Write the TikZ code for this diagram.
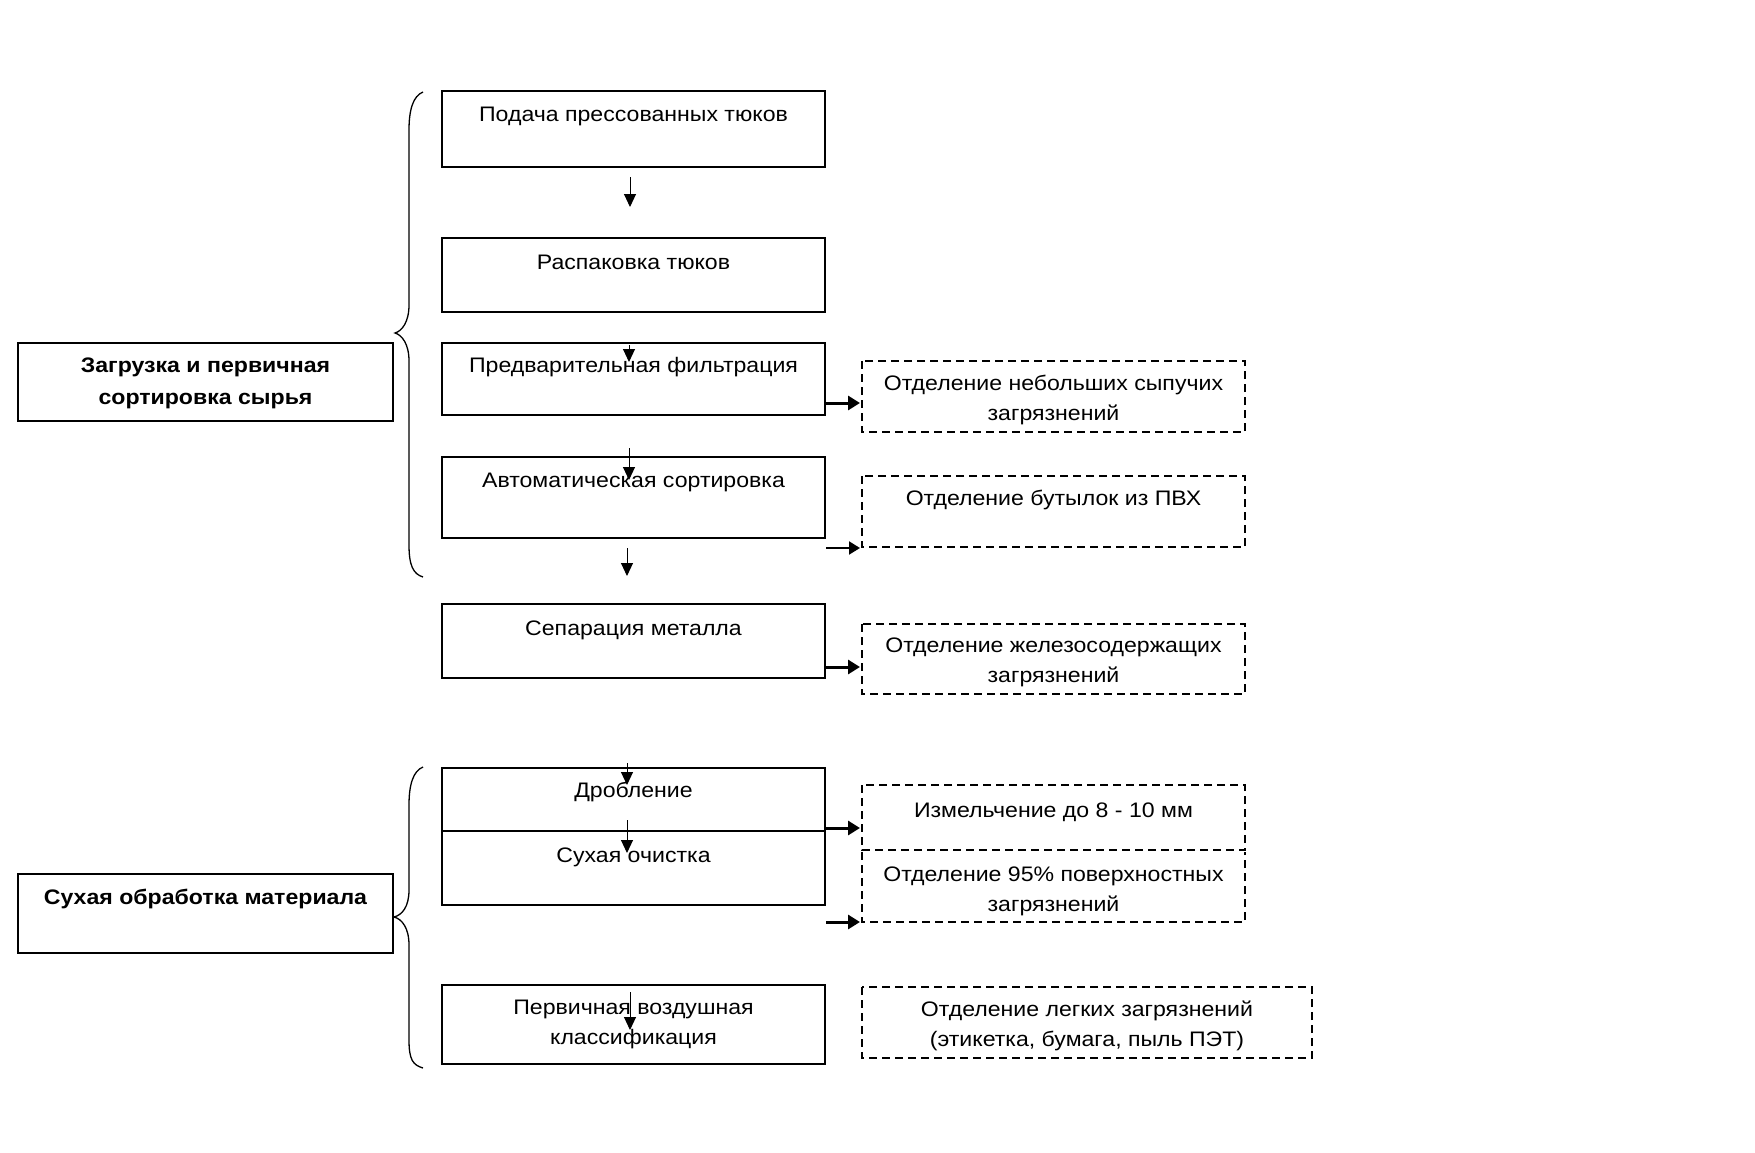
\documentclass[tikz,border=0pt]{standalone}
\usepackage{fontspec}
\setmainfont{Liberation Sans}[FakeStretch=1.10]
\usetikzlibrary{arrows.meta}
\begin{document}
\begin{tikzpicture}[x=1pt,y=-1pt,
  box/.style={draw,line width=1.5pt,inner sep=0pt},
  dbox/.style={draw,line width=1.3pt,dash pattern=on 8pt off 5pt,inner sep=0pt},
  txt/.style={inner sep=0pt,align=center,font=\fontsize{21}{30}\selectfont},
  btxt/.style={inner sep=0pt,align=center,font=\fontsize{21}{32}\selectfont\bfseries},
  darr/.style={line width=1pt,-{Triangle[length=13pt,width=12pt]}},
  rarr/.style={line width=3pt,-{Triangle[length=12pt,width=14pt]}},
  rarrthin/.style={line width=2pt,-{Triangle[length=11pt,width=13pt]}},
  brace/.style={line width=1.3pt}]
\useasboundingbox (0,0) rectangle (1755,1153);
% process boxes
\draw[box] (442,91) rectangle (825,167);
\node[txt] (t1) at (633.5,116) {Подача прессованных тюков};
\draw[box] (442,238) rectangle (825,312);
\node[txt] (t2) at (633.5,262) {Распаковка тюков};
\draw[box] (442,343) rectangle (825,415);
\node[txt] (t3) at (633.5,367) {Предварительная фильтрация};
\draw[box] (442,457) rectangle (825,538);
\node[txt] (t4) at (633.5,482) {Автоматическая сортировка};
\draw[box] (442,604) rectangle (825,678);
\node[txt] (t5) at (633.5,630) {Сепарация металла};
\draw[box] (442,768) rectangle (825,831);
\node[txt] (t6) at (633.5,792) {Дробление};
\draw[box] (442,831) rectangle (825,905);
\node[txt] (t7) at (633.5,857) {Сухая очистка};
\draw[box] (442,985) rectangle (825,1064);
\node[txt] (t8) at (633.5,1024) {Первичная воздушная\\классификация};
% left group boxes
\draw[box] (18,343) rectangle (393,421);
\node[btxt] (g1) at (205.5,383) {Загрузка и первичная\\сортировка сырья};
\draw[box] (18,874) rectangle (393,953);
\node[btxt] (g2) at (205.5,899) {Сухая обработка материала};
% dashed result boxes
\draw[dbox] (862,361) rectangle (1245,432);
\node[txt] (d1) at (1053.5,400) {Отделение небольших сыпучих\\загрязнений};
\draw[dbox] (862,476) rectangle (1245,547);
\node[txt] (d2) at (1053.5,500) {Отделение бутылок из ПВХ};
\draw[dbox] (862,624) rectangle (1245,694);
\node[txt] (d3) at (1053.5,662.5) {Отделение железосодержащих\\загрязнений};
\draw[dbox] (862,785) rectangle (1245,850);
\node[txt] (d4) at (1053.5,812) {Измельчение до 8 - 10 мм};
\draw[dbox] (862,852) -- (862,922) -- (1245,922) -- (1245,852);
\node[txt] (d5) at (1053.5,891) {Отделение 95\% поверхностных\\загрязнений};
\draw[dbox] (862,987) rectangle (1312,1058);
\node[txt] (d6) at (1087,1025.5) {Отделение легких загрязнений\\(этикетка, бумага, пыль ПЭТ)};
% down arrows
\coordinate (a1s) at (630,177); \coordinate (a1e) at (630,207);
\coordinate (a2s) at (629,345); \coordinate (a2e) at (629,362);
\coordinate (a3s) at (629,448); \coordinate (a3e) at (629,480);
\coordinate (a4s) at (627,548); \coordinate (a4e) at (627,576);
\coordinate (a5s) at (627,763); \coordinate (a5e) at (627,785);
\coordinate (a6s) at (627,820); \coordinate (a6e) at (627,853);
\coordinate (a7s) at (630,992); \coordinate (a7e) at (630,1030);
\foreach \i in {1,...,7} {\draw[darr] (a\i s) -- (a\i e);}
% right arrows
\coordinate (r1s) at (826,403); \coordinate (r1e) at (860,403);
\coordinate (r2s) at (826,548); \coordinate (r2e) at (860,548);
\coordinate (r3s) at (826,667); \coordinate (r3e) at (860,667);
\coordinate (r4s) at (826,828); \coordinate (r4e) at (860,828);
\coordinate (r5s) at (826,922); \coordinate (r5e) at (860,922);
\foreach \i in {1,3,4,5} {\draw[rarr] (r\i s) -- (r\i e);}
\draw[rarrthin] (r2s) -- (r2e);
% braces
\draw[brace] (423,92) .. controls (413,96) and (409,110) .. (409,130)
  -- (409,305) .. controls (409,322) and (402,331) .. (395,333)
  .. controls (402,335) and (409,344) .. (409,361)
  -- (409,545) .. controls (409,565) and (413,574) .. (423,577);
\draw[brace] (423,767) .. controls (413,771) and (409,785) .. (409,805)
  -- (409,890) .. controls (409,907) and (402,915) .. (394,917)
  .. controls (402,919) and (409,928) .. (409,945)
  -- (409,1040) .. controls (409,1060) and (413,1065) .. (423,1068);
\end{tikzpicture}
\end{document}
